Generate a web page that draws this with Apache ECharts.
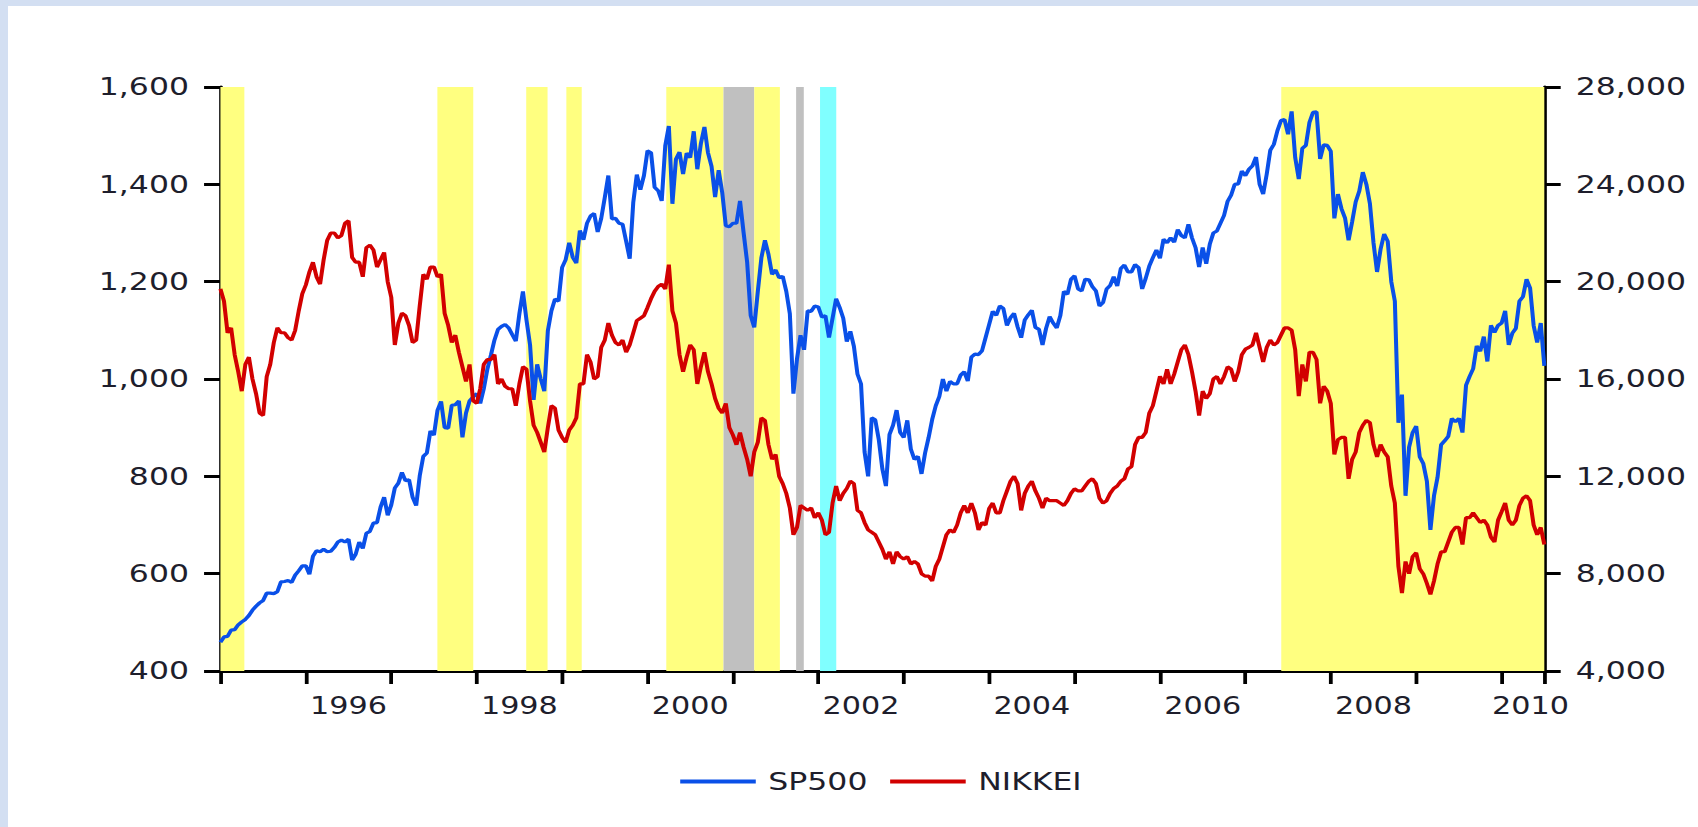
<!DOCTYPE html>
<html>
<head>
<meta charset="utf-8">
<script src="https://cdn.jsdelivr.net/npm/echarts@6/dist/echarts.min.js"></script>
<style>
html,body{margin:0;padding:0;width:1698px;height:827px;overflow:hidden;background:#d3dff2;}
#panel{position:absolute;left:8px;top:6px;right:0;bottom:0;background:#ffffff;}
#chart{position:absolute;left:0;top:0;width:1348px;height:827px;transform:scaleX(1.25964);transform-origin:0 0;}
</style>
</head>
<body>
<div id="panel"></div>
<div id="chart"></div>
<script>
// ---- data (two points per month: 1st and 16th, Jan 1995 .. Jul 2010) ----
const startYear = 1995;
const stepsPerYear = 24;

const sp500 = [
  459,470, 471,484, 485,495, 501,506, 514,525, 533,540, 545,560, 560,559, 563,583, 584,586, 582,597, 606,616,
  616,599, 636,647, 645,650, 645,646, 654,665, 669,665, 671,628, 640,665, 652,683, 687,704, 705,737, 757,720,
  741,776, 786,808, 791,793, 757,740, 801,841, 848,893, 885,936, 954,900, 899,946, 947,955, 880,930, 955,963,
  970,950, 980,1020, 1049,1080, 1102,1108, 1112,1105, 1091,1078, 1134,1180, 1121,1070, 957,1030, 1000,975, 1099,1140, 1164,1160,
  1229,1245, 1280,1250, 1238,1305, 1286,1320, 1335,1340, 1302,1330, 1373,1418, 1329,1330, 1320,1318, 1283,1247, 1363,1420, 1389,1418,
  1469,1465, 1394,1387, 1366,1480, 1520,1360, 1452,1466, 1421,1464, 1455,1509, 1431,1484, 1518,1465, 1437,1374, 1429,1383, 1315,1313,
  1320,1320, 1366,1301, 1240,1130, 1106,1180, 1249,1285, 1256,1215, 1224,1208, 1211,1180, 1134,970, 1041,1090, 1060,1140, 1139,1150,
  1148,1127, 1130,1085, 1125,1165, 1147,1125, 1077,1098, 1067,1010, 990,850, 800,920, 916,875, 815,780, 886,905, 936,890,
  880,915, 856,835, 841,805, 848,880, 917,945, 964,1000, 975,995, 990,990, 1008,1015, 996,1045, 1051,1050, 1058,1085,
  1112,1139, 1131,1150, 1145,1110, 1126,1135, 1107,1085, 1121,1132, 1141,1106, 1102,1070, 1104,1128, 1115,1105, 1130,1180, 1174,1205,
  1212,1185, 1181,1205, 1204,1190, 1181,1150, 1157,1185, 1192,1210, 1191,1227, 1234,1220, 1220,1235, 1229,1185, 1207,1232, 1249,1265,
  1248,1287, 1280,1290, 1281,1307, 1295,1290, 1318,1290, 1270,1230, 1270,1237, 1277,1300, 1304,1320, 1336,1365, 1378,1400, 1401,1427,
  1418,1431, 1438,1456, 1400,1380, 1421,1470, 1482,1510, 1531,1533, 1503,1550, 1455,1411, 1474,1480, 1527,1548, 1549,1452, 1481,1480,
  1468,1330, 1380,1350, 1331,1285, 1323,1364, 1386,1425, 1400,1360, 1280,1220, 1267,1298, 1283,1200, 1160,910, 968,760, 860,890,
  903,840, 826,790, 690,760, 798,865, 873,882, 919,912, 919,890, 987,1005, 1021,1068, 1057,1087, 1036,1110, 1096,1110,
  1115,1140, 1070,1094, 1104,1160, 1169,1205, 1187,1110, 1075,1115, 1027
];

const nikkei = [
  19700,19200, 17900,18100, 17000,16300, 15500,16600, 16900,16000, 15400,14600, 14500,16100, 16600,17500, 18100,17900, 17900,17700, 17600,18000, 18800,19500,
  19868,20400, 20800,20200, 19900,20900, 21700,22000, 22000,21800, 21900,22400, 22500,21000, 20800,20800, 20200,21400, 21500,21300, 20600,20900, 21200,20000,
  19361,17400, 18300,18700, 18600,18200, 17500,17600, 19000,20300, 20100,20600, 20600,20200, 20300,18700, 18200,17500, 17800,17100, 16500,15900, 16600,15100,
  15000,15600, 16600,16800, 16800,17000, 15800,16000, 15700,15600, 15600,14900, 15800,16500, 16400,15100, 14100,13800, 13400,13000, 14000,14900, 14800,13900,
  13600,13400, 13900,14100, 14400,15800, 15800,17000, 16700,16000, 16100,17300, 17600,18300, 17800,17500, 17400,17600, 17100,17400, 17900,18400, 18500,18600,
  18934,19300, 19600,19800, 19900,19700, 20700,18800, 18300,17000, 16300,16900, 17400,17200, 15800,16500, 17100,16300, 15800,15200, 14800,14600, 15000,14000,
  13700,13300, 13800,13200, 12700,12000, 13000,13400, 14400,14300, 13300,12700, 12900,12000, 11700,11300, 10700,9600, 9900,10800, 10700,10600, 10700,10300,
  10500,10200, 9600,9700, 10900,11600, 11000,11300, 11500,11800, 11700,10600, 10500,10100, 9800,9700, 9600,9300, 9000,8600, 8900,8400, 8900,8700,
  8600,8700, 8400,8500, 8400,8000, 7900,7900, 7700,8300, 8600,9100, 9600,9800, 9700,10000, 10500,10800, 10500,10900, 10500,9800, 10100,10000,
  10677,10900, 10500,10500, 11000,11400, 11800,12000, 11700,10600, 11300,11600, 11800,11400, 11100,10700, 11100,11000, 11000,11000, 10900,10800, 11000,11300,
  11489,11400, 11400,11600, 11800,11900, 11700,11100, 10900,11000, 11300,11500, 11600,11800, 11900,12300, 12400,13300, 13600,13600, 13800,14600, 14900,15500,
  16111,15800, 16400,15800, 16200,16700, 17200,17400, 17000,16300, 15500,14500, 15500,15200, 15400,16000, 16100,15800, 16100,16500, 16400,15900, 16300,17000,
  17226,17300, 17400,17900, 17300,16700, 17300,17600, 17400,17500, 17800,18100, 18100,18000, 17200,15300, 16600,15900, 17100,17100, 16800,15000, 15700,15500,
  15000,12900, 13500,13600, 13600,11900, 12700,13000, 13800,14100, 14300,14200, 13300,12800, 13300,13000, 12800,11600, 10900,8300, 7200,8500, 8000,8700,
  8860,8200, 7990,7600, 7150,7700, 8400,8900, 8900,9300, 9700,9900, 9900,9200, 10300,10300, 10500,10300, 10100,10200, 10000,9500, 9300,10200,
  10546,10900, 10200,10000, 10200,10800, 11100,11200, 11000,10000, 9600,9900, 9200
];

const seriesNames = ['SP500', 'NIKKEI'];
const xLabelYears = ['1996', '1998', '2000', '2002', '2004', '2006', '2008', '2010'];
const leftTickLabels = ['400', '600', '800', '1,000', '1,200', '1,400', '1,600'];
const rightTickLabels = ['4,000', '8,000', '12,000', '16,000', '20,000', '24,000', '28,000'];

// shaded periods (decimal years)
const bandStart = [1995.00, 1997.54, 1998.58, 1999.05, 2000.22, 2000.89, 2001.25, 2001.74, 2002.02, 2007.42];
const bandEnd   = [1995.28, 1997.96, 1998.83, 1999.23, 2000.89, 2001.25, 2001.55, 2001.83, 2002.21, 2010.50];
const bandKind  = ['y', 'y', 'y', 'y', 'y', 'g', 'y', 'g', 'c', 'y'];

// ---- styling ----
const FONT = 'DejaVu Sans';
const TXT = '#1e1e2c';
const BLUE = '#0a50e8';
const RED = '#d20000';
const bandColors = { y: '#ffff80', g: '#c0c0c0', c: '#80ffff' };

const toXY = arr => arr.map((v, i) => [startYear + i / stepsPerYear, v]);

const bands = bandStart.map((s, i) => [
  { xAxis: s, itemStyle: { color: bandColors[bandKind[i]], opacity: 1 } },
  { xAxis: bandEnd[i] }
]);

const chart = echarts.init(document.getElementById('chart'), null, { renderer: 'svg' });

const axisLineStyle = { color: '#000', width: 3 };
const lastLabel = xLabelYears[xLabelYears.length - 1];

chart.setOption({
  animation: false,
  backgroundColor: 'transparent',
  grid: { left: 175, right: 122, top: 87, bottom: 156, containLabel: false },
  legend: {
    data: seriesNames,
    left: 535, top: 764,
    icon: 'rect', itemWidth: 60, itemHeight: 4, itemGap: 18,
    textStyle: { fontFamily: FONT, fontSize: 25, color: TXT, padding: [0, 0, 0, 5] },
    selectedMode: false
  },
  xAxis: [
    {
      type: 'value', min: 1995, max: 2010.5, interval: 1, position: 'bottom',
      axisLine: { show: true, onZero: false, lineStyle: axisLineStyle },
      axisTick: { show: true, inside: false, length: 13, lineStyle: { color: '#000', width: 3 } },
      axisLabel: { show: false },
      splitLine: { show: false }
    },
    {
      type: 'value', min: 1995, max: 2010.5, interval: 0.5, position: 'bottom',
      axisLine: { show: false, onZero: false },
      axisTick: { show: false },
      splitLine: { show: false },
      axisLabel: {
        show: true, margin: 23, fontFamily: FONT, fontSize: 24, color: TXT,
        showMinLabel: true, showMaxLabel: true,
        rich: { last: { fontFamily: FONT, fontSize: 24, color: TXT, padding: [0, 22, 0, 0] } },
        formatter: v => {
          const h = Math.round(v * 2) / 2;
          const y = Math.floor(h);
          if (h - y !== 0.5) return '';
          const s = String(y);
          if (xLabelYears.indexOf(s) < 0) return '';
          return s === lastLabel ? '{last|' + s + '}' : s;
        }
      }
    }
  ],
  yAxis: [
    {
      type: 'value', min: 400, max: 1600, interval: 200, position: 'left',
      axisLine: { show: true, onZero: false, lineStyle: axisLineStyle },
      axisTick: { show: true, inside: false, length: 13, lineStyle: { color: '#000', width: 3 } },
      axisLabel: {
        margin: 25, fontFamily: FONT, fontSize: 25, color: TXT,
        formatter: v => leftTickLabels[Math.round((v - 400) / 200)] || ''
      },
      splitLine: { show: false }
    },
    {
      type: 'value', min: 4000, max: 28000, interval: 4000, position: 'right',
      axisLine: { show: true, onZero: false, lineStyle: axisLineStyle },
      axisTick: { show: true, inside: false, length: 13, lineStyle: { color: '#000', width: 3 } },
      axisLabel: {
        margin: 25, fontFamily: FONT, fontSize: 25, color: TXT,
        formatter: v => rightTickLabels[Math.round((v - 4000) / 4000)] || ''
      },
      splitLine: { show: false }
    }
  ],
  series: [
    {
      name: 'bands', type: 'line', xAxisIndex: 0, yAxisIndex: 0, data: [], z: 1, silent: true,
      markArea: { silent: true, data: bands }
    },
    {
      name: seriesNames[0], type: 'line', xAxisIndex: 0, yAxisIndex: 0,
      data: toXY(sp500), showSymbol: false, symbol: 'none', z: 3,
      lineStyle: { color: BLUE, width: 3.2 }, itemStyle: { color: BLUE }
    },
    {
      name: seriesNames[1], type: 'line', xAxisIndex: 0, yAxisIndex: 1,
      data: toXY(nikkei), showSymbol: false, symbol: 'none', z: 4,
      lineStyle: { color: RED, width: 3.2 }, itemStyle: { color: RED }
    }
  ]
});
</script>
</body>
</html>
